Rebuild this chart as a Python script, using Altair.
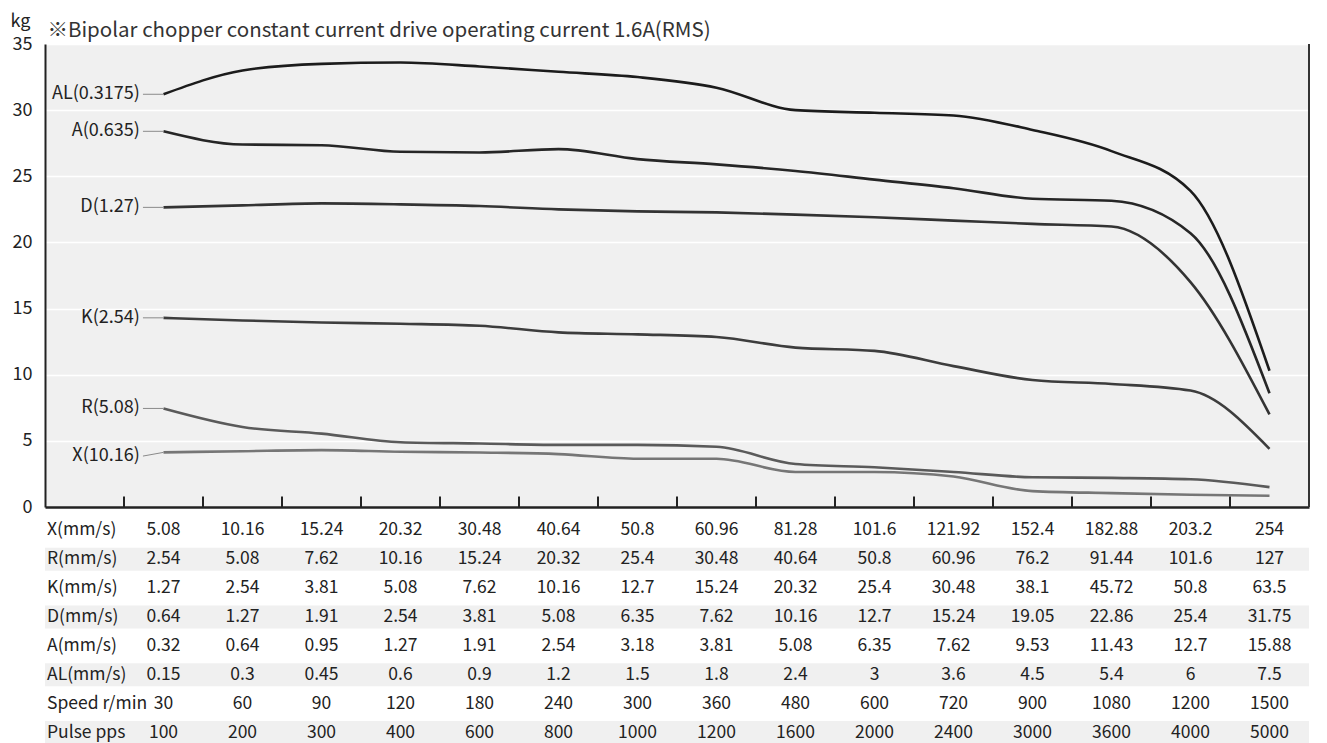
import altair as alt
import pandas as pd

FONT = "Noto Sans CJK SC"

# ---- curve data (kg), 15 speed steps ----
series_names = ["AL(0.3175)", "A(0.635)", "D(1.27)", "K(2.54)", "R(5.08)", "X(10.16)"]
al_kg = [31.2, 33.0, 33.5, 33.6, 33.3, 32.9, 32.5, 31.7, 30.0, 29.8, 29.6, 28.5, 26.9, 23.9, 10.3]
a_kg = [28.4, 27.4, 27.35, 26.85, 26.8, 27.05, 26.3, 25.9, 25.4, 24.75, 24.1, 23.3, 23.15, 20.7, 8.6]
d_kg = [22.65, 22.8, 22.95, 22.88, 22.75, 22.5, 22.35, 22.27, 22.1, 21.9, 21.65, 21.4, 21.2, 17.0, 7.0]
k_kg = [14.3, 14.1, 13.95, 13.85, 13.7, 13.2, 13.05, 12.85, 12.05, 11.8, 10.65, 9.6, 9.3, 8.8, 4.4]
r_kg = [7.45, 6.05, 5.55, 4.9, 4.8, 4.7, 4.7, 4.55, 3.25, 3.0, 2.65, 2.25, 2.2, 2.1, 1.5]
x_kg = [4.13, 4.22, 4.3, 4.18, 4.12, 4.0, 3.65, 3.65, 2.65, 2.65, 2.3, 1.2, 1.05, 0.93, 0.85]
series_colors = ["#1c1c1c", "#262626", "#333333", "#3d3d3d", "#5a5a5a", "#767676"]
label_kg = [31.2, 28.4, 22.65, 14.3, 7.45, 3.85]

# ---- table rows ----
row_names = ["X(mm/s)", "R(mm/s)", "K(mm/s)", "D(mm/s)", "A(mm/s)", "AL(mm/s)", "Speed r/min", "Pulse pps"]
row_x = ["5.08", "10.16", "15.24", "20.32", "30.48", "40.64", "50.8", "60.96", "81.28", "101.6", "121.92", "152.4", "182.88", "203.2", "254"]
row_r = ["2.54", "5.08", "7.62", "10.16", "15.24", "20.32", "25.4", "30.48", "40.64", "50.8", "60.96", "76.2", "91.44", "101.6", "127"]
row_k = ["1.27", "2.54", "3.81", "5.08", "7.62", "10.16", "12.7", "15.24", "20.32", "25.4", "30.48", "38.1", "45.72", "50.8", "63.5"]
row_d = ["0.64", "1.27", "1.91", "2.54", "3.81", "5.08", "6.35", "7.62", "10.16", "12.7", "15.24", "19.05", "22.86", "25.4", "31.75"]
row_a = ["0.32", "0.64", "0.95", "1.27", "1.91", "2.54", "3.18", "3.81", "5.08", "6.35", "7.62", "9.53", "11.43", "12.7", "15.88"]
row_al = ["0.15", "0.3", "0.45", "0.6", "0.9", "1.2", "1.5", "1.8", "2.4", "3", "3.6", "4.5", "5.4", "6", "7.5"]
row_speed = ["30", "60", "90", "120", "180", "240", "300", "360", "480", "600", "720", "900", "1080", "1200", "1500"]
row_pulse = ["100", "200", "300", "400", "600", "800", "1000", "1200", "1600", "2000", "2400", "3000", "3600", "4000", "5000"]
shaded_rows = ["R(mm/s)", "D(mm/s)", "AL(mm/s)", "Pulse pps"]

subtitle = "※Bipolar chopper constant current drive operating current 1.6A(RMS)"
y_ticks = [0, 5, 10, 15, 20, 25, 30, 35]

# x slots: slot 0 holds the labels, data sit in the centres of slots 1..15
n = len(row_x)
positions = [i + 1.5 for i in range(n)]
X_DOMAIN = [0, 16]
Y_DOMAIN = [0, 35]

curves = [al_kg, a_kg, d_kg, k_kg, r_kg, x_kg]
line_rows = []
for name, vals in zip(series_names, curves):
    for p, v in zip(positions, vals):
        line_rows.append({"series": name, "pos": p, "kg": v})
df_lines = pd.DataFrame(line_rows)

df_labels = pd.DataFrame({
    "series": series_names,
    "lx": [1.2] * 6,
    "cx0": [1.24] * 6,
    "cx1": [positions[0]] * 6,
    "ly": label_kg,
    "start": [c[0] for c in curves],
})

df_ticks = pd.DataFrame({"t": list(range(1, 16)), "y0": [0] * 15, "y1": [0.8] * 15})
df_border = pd.DataFrame({"t": [16], "y0": [0], "y1": [35]})

xs = alt.Scale(domain=X_DOMAIN, nice=False, zero=False)
ys = alt.Scale(domain=Y_DOMAIN, nice=False, zero=False)
cs = alt.Scale(domain=series_names, range=series_colors)

yaxis = alt.Axis(
    values=y_ticks, domain=True, domainColor="#222", domainWidth=2,
    ticks=False, labelFontSize=18, labelPadding=13, labelColor="#222", labelFont=FONT,
    grid=True, gridColor="#ffffff", gridWidth=1.5,
    title="kg", titleAngle=0, titleX=-35, titleY=-18, titleAlign="left",
    titleBaseline="alphabetic", titleFontSize=18, titleFontWeight="normal",
    titleColor="#222", titleFont=FONT,
)
xaxis_bottom = alt.Axis(
    orient="bottom", labels=False, ticks=False, grid=False, domain=True,
    domainColor="#222", domainWidth=2.5, title=None,
)
xaxis_top = alt.Axis(
    orient="top", labels=False, ticks=False, grid=False, domain=False,
    title=subtitle, titleX=2, titleY=-8, titleAlign="left", titleAnchor="start",
    titleBaseline="alphabetic", titleFontSize=20.5, titleFontWeight="normal",
    titleColor="#333", titleFont=FONT,
)

lines = alt.Chart(df_lines).mark_line(interpolate="monotone", strokeWidth=2.6).encode(
    x=alt.X("pos:Q", scale=xs, axis=xaxis_bottom),
    y=alt.Y("kg:Q", scale=ys, axis=yaxis),
    color=alt.Color("series:N", scale=cs, legend=None),
    detail="series:N",
)

connectors = alt.Chart(df_labels).mark_rule(color="#8a8a8a", strokeWidth=1).encode(
    x=alt.X("cx0:Q", scale=xs, axis=None),
    x2="cx1:Q",
    y=alt.Y("ly:Q", scale=ys, axis=yaxis),
    y2="start:Q",
)

labels = alt.Chart(df_labels).mark_text(
    align="right", baseline="middle", fontSize=18, color="#222", font=FONT
).encode(
    x=alt.X("lx:Q", scale=xs, axis=None),
    y=alt.Y("ly:Q", scale=ys, axis=yaxis),
    text="series:N",
)

ticks = alt.Chart(df_ticks).mark_rule(color="#222", strokeWidth=2).encode(
    x=alt.X("t:Q", scale=xs, axis=None),
    y=alt.Y("y0:Q", scale=ys, axis=yaxis),
    y2="y1:Q",
)

border = alt.Chart(df_border).mark_rule(color="#333", strokeWidth=2).encode(
    x=alt.X("t:Q", scale=xs, axis=xaxis_top),
    y=alt.Y("y0:Q", scale=ys, axis=yaxis),
    y2="y1:Q",
)

top = alt.layer(lines, connectors, labels, ticks, border).resolve_axis(
    x="independent"
).properties(
    width=1264,
    height=463,
    view=alt.ViewBackground(fill="#f0f0f0", stroke=None),
)

# ---- table ----
table_vals = [row_x, row_r, row_k, row_d, row_a, row_al, row_speed, row_pulse]
cell_rows = []
for rn, vals in zip(row_names, table_vals):
    for p, v in zip(positions, vals):
        cell_rows.append({"row": rn, "pos": p, "txt": v})
df_cells = pd.DataFrame(cell_rows)
df_rowlab = pd.DataFrame({"row": row_names, "pos": [0] * len(row_names)})
df_bg = pd.DataFrame({"row": shaded_rows, "x0": [0] * 4, "x1": [16] * 4})

rs = alt.Scale(domain=row_names, paddingInner=0.2, paddingOuter=0.1)

bg = alt.Chart(df_bg).mark_rect(color="#f0f0f0").encode(
    x=alt.X("x0:Q", scale=xs, axis=None),
    x2="x1:Q",
    y=alt.Y("row:N", scale=rs, axis=None, sort=row_names),
)
cells = alt.Chart(df_cells).mark_text(
    align="center", baseline="middle", fontSize=17.5, color="#222", font=FONT
).encode(
    x=alt.X("pos:Q", scale=xs, axis=None),
    y=alt.Y("row:N", scale=rs, axis=None, sort=row_names),
    text="txt:N",
)
rowlab = alt.Chart(df_rowlab).mark_text(
    align="left", baseline="middle", fontSize=17.5, color="#222", font=FONT, dx=2
).encode(
    x=alt.X("pos:Q", scale=xs, axis=None),
    y=alt.Y("row:N", scale=rs, axis=None, sort=row_names),
    text="row:N",
)
table = alt.layer(bg, cells, rowlab).properties(
    width=1264, height=231, view=alt.ViewBackground(stroke=None)
)

chart = alt.vconcat(top, table, spacing=0).properties(
    padding={"left": 2, "top": 4, "right": 5, "bottom": 0}
).configure(font=FONT).configure_view(stroke=None)

chart.save("out.html", embed_options={"renderer": "svg", "actions": False})
